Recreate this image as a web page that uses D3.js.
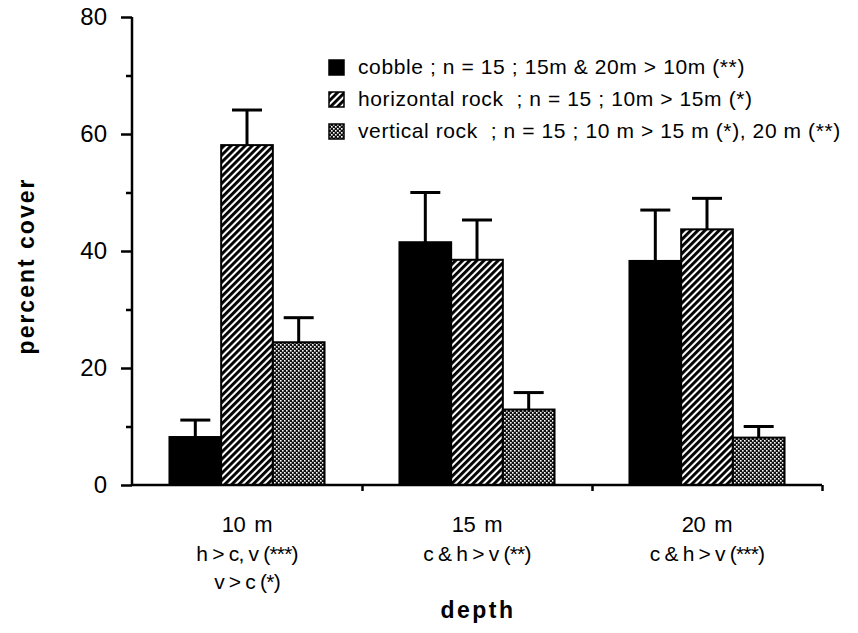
<!DOCTYPE html>
<html>
<head>
<meta charset="utf-8">
<script src="https://cdn.jsdelivr.net/npm/d3@7"></script>
<style>
  html, body { margin: 0; padding: 0; background: #fff; }
  svg { display: block; font-family: "Liberation Sans", Arial, Helvetica, sans-serif; }
  .legend-label { white-space: pre; }
</style>
</head>
<body>
<svg id="chart" width="858" height="633"></svg>
<script>
// Substrate cover by depth (mean percent cover with upper error bar)
const depths = ["10 m", "15 m", "20 m"];
const depthNotes = [["h > c, v (***)", "v > c (*)"], ["c & h > v (**)"], ["c & h > v (***)"]];
const substrates = ["cobble", "horizontal", "vertical"];
const legendLabels = [
  "cobble ; n = 15 ; 15m & 20m > 10m (**)",
  "horizontal rock  ; n = 15 ; 10m > 15m (*)",
  "vertical rock  ; n = 15 ; 10 m > 15 m (*), 20 m (**)"
];
const cobbleMean = [8.2, 41.5, 38.3];
const cobbleErr = [2.9, 8.5, 8.7];
const horizontalMean = [58.1, 38.5, 43.7];
const horizontalErr = [6.0, 6.8, 5.3];
const verticalMean = [24.4, 12.9, 8.1];
const verticalErr = [4.2, 2.9, 1.9];
const yTicks = [0, 20, 40, 60, 80];
const yMinorTicks = [10, 30, 50, 70];

const means = [cobbleMean, horizontalMean, verticalMean];
const errs = [cobbleErr, horizontalErr, verticalErr];

const svg = d3.select("#chart");
const plotLeft = 132, plotRight = 822, plotTop = 17, plotBottom = 485;

const y = d3.scaleLinear().domain([0, 80]).range([plotBottom, plotTop]);
const x = d3.scaleBand().domain(depths).range([plotLeft, plotRight]).paddingInner(0).paddingOuter(0);
const xs = d3.scaleBand().domain(substrates).range([0, x.bandwidth()]).paddingInner(0).paddingOuter(0.725);

// Fill patterns
const defs = svg.append("defs");
const hatch = defs.append("pattern")
  .attr("id", "hatch").attr("patternUnits", "userSpaceOnUse")
  .attr("width", 5).attr("height", 10)
  .attr("patternTransform", "rotate(45)");
hatch.append("rect").attr("width", 5).attr("height", 10).attr("fill", "#fff");
hatch.append("rect").attr("width", 2.9).attr("height", 10).attr("fill", "#000");

const check = defs.append("pattern")
  .attr("id", "check").attr("patternUnits", "userSpaceOnUse")
  .attr("width", 4).attr("height", 4);
check.append("rect").attr("width", 4).attr("height", 4).attr("fill", "#111");
check.append("rect").attr("x", 0).attr("y", 0).attr("width", 1.6).attr("height", 1.6).attr("fill", "#fff");
check.append("rect").attr("x", 2).attr("y", 2).attr("width", 1.6).attr("height", 1.6).attr("fill", "#fff");

const fills = { cobble: "#000", horizontal: "url(#hatch)", vertical: "url(#check)" };

// Bars and error bars
const rows = [];
depths.forEach((d, i) => {
  substrates.forEach((s, j) => {
    rows.push({ depth: d, sub: s, mean: means[j][i], err: errs[j][i] });
  });
});

const g = svg.append("g");
const bar = g.selectAll("g.bar").data(rows).join("g").attr("class", "bar");
const cx = d => x(d.depth) + xs(d.sub) + xs.bandwidth() / 2;

bar.append("line")
  .attr("x1", cx).attr("x2", cx)
  .attr("y1", d => y(d.mean))
  .attr("y2", d => y(d.mean + d.err))
  .attr("stroke", "#000").attr("stroke-width", 3);
bar.append("line")
  .attr("x1", d => cx(d) - 15)
  .attr("x2", d => cx(d) + 15)
  .attr("y1", d => y(d.mean + d.err))
  .attr("y2", d => y(d.mean + d.err))
  .attr("stroke", "#000").attr("stroke-width", 3);
bar.append("rect")
  .attr("x", d => x(d.depth) + xs(d.sub))
  .attr("y", d => y(d.mean))
  .attr("width", xs.bandwidth())
  .attr("height", d => y(0) - y(d.mean))
  .attr("fill", d => fills[d.sub])
  .attr("stroke", "#000").attr("stroke-width", 2);

// Y axis with major and minor ticks
const yAxis = svg.append("g").attr("transform", `translate(${plotLeft},0)`)
  .call(d3.axisLeft(y).tickValues(yTicks).tickSize(11).tickPadding(12).tickFormat(d3.format("d")));
yAxis.select(".domain").attr("d", `M0,${plotTop}V${plotBottom}`).attr("stroke-width", 2.5);
yAxis.selectAll(".tick line").attr("stroke-width", 2.5);
yAxis.selectAll(".tick text").attr("font-size", 24).attr("fill", "#000")
  .attr("x", -25)
  .attr("font-family", "'Liberation Sans', Arial, sans-serif");
svg.append("g").attr("transform", `translate(${plotLeft},0)`)
  .call(d3.axisLeft(y).tickValues(yMinorTicks).tickSize(6).tickFormat(""))
  .call(a => a.select(".domain").remove())
  .selectAll(".tick line").attr("stroke-width", 2.5);

// X axis: baseline with ticks at group boundaries
const bounds = depths.map(d => x(d)).concat([x.range()[1]]);
const xb = d3.scaleLinear().domain([plotLeft, plotRight]).range([plotLeft, plotRight]);
const xAxis = svg.append("g").attr("transform", `translate(0,${plotBottom})`)
  .call(d3.axisBottom(xb).tickValues(bounds.slice(1)).tickSize(6).tickFormat(""));
xAxis.select(".domain").attr("d", `M${plotLeft},0H${plotRight}`).attr("stroke-width", 2.5);
xAxis.selectAll(".tick line").attr("stroke-width", 2.5);

// Category labels
svg.append("g").selectAll("text").data(depths).join("text")
  .attr("x", d => x(d) + x.bandwidth() / 2)
  .attr("y", 532)
  .attr("text-anchor", "middle")
  .attr("font-size", 22)
  .attr("letter-spacing", -0.3)
  .attr("word-spacing", 3)
  .text(d => d);
depths.forEach((d, i) => {
  depthNotes[i].forEach((t, k) => {
    svg.append("text")
      .attr("x", x(d) + x.bandwidth() / 2)
      .attr("y", 561 + k * 28)
      .attr("text-anchor", "middle")
      .attr("font-size", 21)
      .attr("letter-spacing", -0.8)
      .text(t);
  });
});

// Axis titles
svg.append("text")
  .attr("x", x(depths[1]) + x.bandwidth() / 2 + 1)
  .attr("y", 618)
  .attr("text-anchor", "middle")
  .attr("font-size", 23).attr("font-weight", "bold")
  .attr("letter-spacing", 2.5)
  .text("depth");
svg.append("text")
  .attr("transform", "translate(34,266) rotate(-90)")
  .attr("text-anchor", "middle")
  .attr("font-size", 23).attr("font-weight", "bold")
  .attr("letter-spacing", 2)
  .text("percent  cover");

// Legend
const legend = svg.append("g").selectAll("g").data(substrates).join("g")
  .attr("transform", (d, i) => `translate(329,${60 + i * 32})`);
legend.append("rect")
  .attr("width", 15).attr("height", 15)
  .attr("fill", d => fills[d]).attr("stroke", "#000").attr("stroke-width", 1.5);
legend.append("text")
  .attr("class", "legend-label")
  .attr("x", 29).attr("y", 14)
  .attr("font-size", 21)
  .attr("letter-spacing", 0.6)
  .text((d, i) => legendLabels[i]);
</script>
</body>
</html>
